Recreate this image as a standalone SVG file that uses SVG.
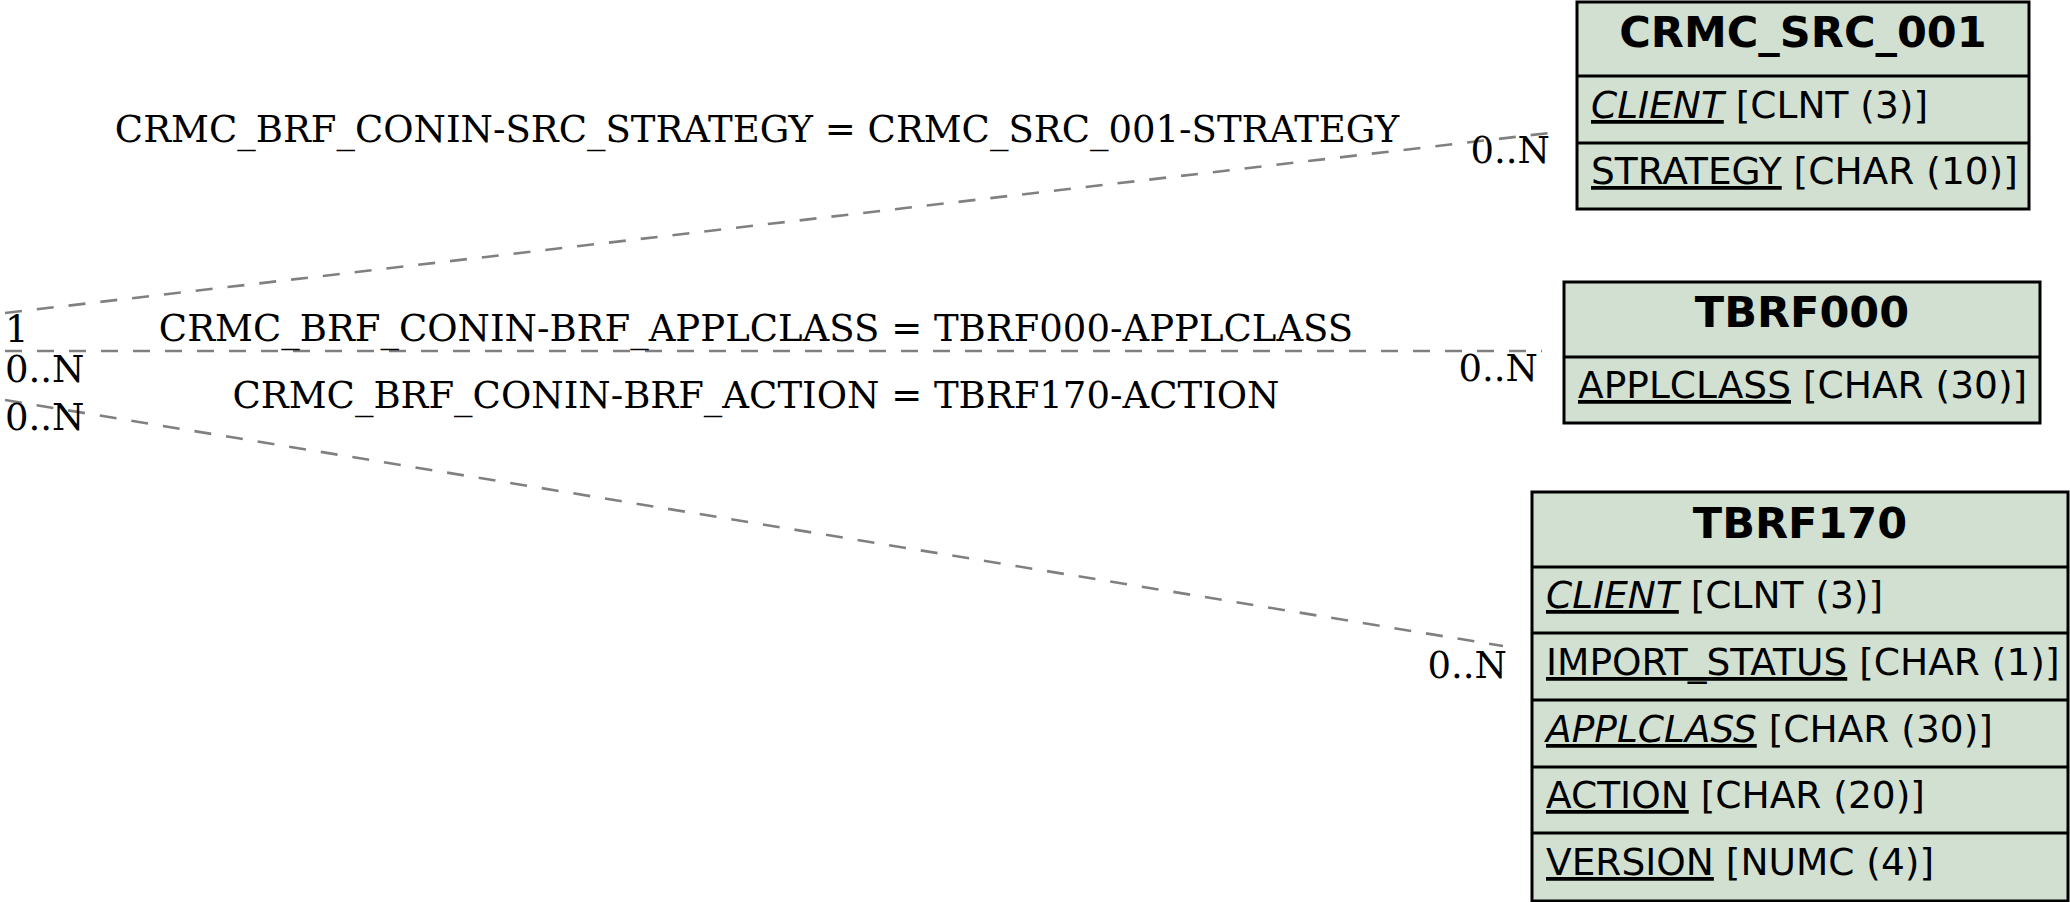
<svg xmlns="http://www.w3.org/2000/svg" width="2070" height="902" viewBox="0 0 2070 902">
<style>
.box{fill:#d1e0d1;stroke:#000;stroke-width:3}
.sep{stroke:#000;stroke-width:3}
.hdr{font-family:"DejaVu Sans",sans-serif;font-weight:bold;font-size:43px;text-anchor:middle;fill:#000}
.fld{font-family:"DejaVu Sans",sans-serif;font-size:37.5px;fill:#000}
.key{text-decoration:underline}
.it{font-style:italic}
.edge{stroke:#808080;stroke-width:2.6;stroke-dasharray:17,15;fill:none}
.lbl{font-family:"DejaVu Serif",serif;font-size:37px;fill:#000}
.mid{text-anchor:middle}
.end{text-anchor:end}
</style>
<rect width="2070" height="902" fill="#fff"/>
<g id="connectors">
<line class="edge" x1="5" y1="313" x2="1549" y2="133"/>
<line class="edge" x1="5" y1="351" x2="1542" y2="351"/>
<line class="edge" x1="5" y1="400" x2="1503" y2="646"/>
<text class="lbl mid" x="757" y="142">CRMC_BRF_CONIN-SRC_STRATEGY = CRMC_SRC_001-STRATEGY</text>
<text class="lbl mid" x="756" y="341">CRMC_BRF_CONIN-BRF_APPLCLASS = TBRF000-APPLCLASS</text>
<text class="lbl mid" x="756" y="408">CRMC_BRF_CONIN-BRF_ACTION = TBRF170-ACTION</text>
<text class="lbl" x="5" y="342">1</text>
<text class="lbl" x="5" y="382">0..N</text>
<text class="lbl" x="5" y="430">0..N</text>
<text class="lbl end" x="1550" y="163">0..N</text>
<text class="lbl end" x="1538" y="381">0..N</text>
<text class="lbl end" x="1507" y="678">0..N</text>
</g>
<g id="CRMC_SRC_001">
<rect class="box" x="1577" y="2" width="452" height="207"/>
<line class="sep" x1="1577" y1="76" x2="2029" y2="76"/>
<line class="sep" x1="1577" y1="143" x2="2029" y2="143"/>
<text class="hdr" x="1803" y="47">CRMC_SRC_001</text>
<text class="fld" x="1591" y="118"><tspan class="key it">CLIENT</tspan> [CLNT (3)]</text>
<text class="fld" x="1591" y="184"><tspan class="key">STRATEGY</tspan> [CHAR (10)]</text>
</g>
<g id="TBRF000">
<rect class="box" x="1564" y="282" width="476" height="141"/>
<line class="sep" x1="1564" y1="357" x2="2040" y2="357"/>
<text class="hdr" x="1802" y="327">TBRF000</text>
<text class="fld" x="1578" y="398"><tspan class="key">APPLCLASS</tspan> [CHAR (30)]</text>
</g>
<g id="TBRF170">
<rect class="box" x="1532" y="492" width="536" height="409"/>
<line class="sep" x1="1532" y1="567" x2="2068" y2="567"/>
<line class="sep" x1="1532" y1="633" x2="2068" y2="633"/>
<line class="sep" x1="1532" y1="700" x2="2068" y2="700"/>
<line class="sep" x1="1532" y1="767" x2="2068" y2="767"/>
<line class="sep" x1="1532" y1="833" x2="2068" y2="833"/>
<text class="hdr" x="1800" y="538">TBRF170</text>
<text class="fld" x="1546" y="608"><tspan class="key it">CLIENT</tspan> [CLNT (3)]</text>
<text class="fld" x="1546" y="675"><tspan class="key">IMPORT_STATUS</tspan> [CHAR (1)]</text>
<text class="fld" x="1546" y="742"><tspan class="key it">APPLCLASS</tspan> [CHAR (30)]</text>
<text class="fld" x="1546" y="808"><tspan class="key">ACTION</tspan> [CHAR (20)]</text>
<text class="fld" x="1546" y="875"><tspan class="key">VERSION</tspan> [NUMC (4)]</text>
</g>
</svg>
